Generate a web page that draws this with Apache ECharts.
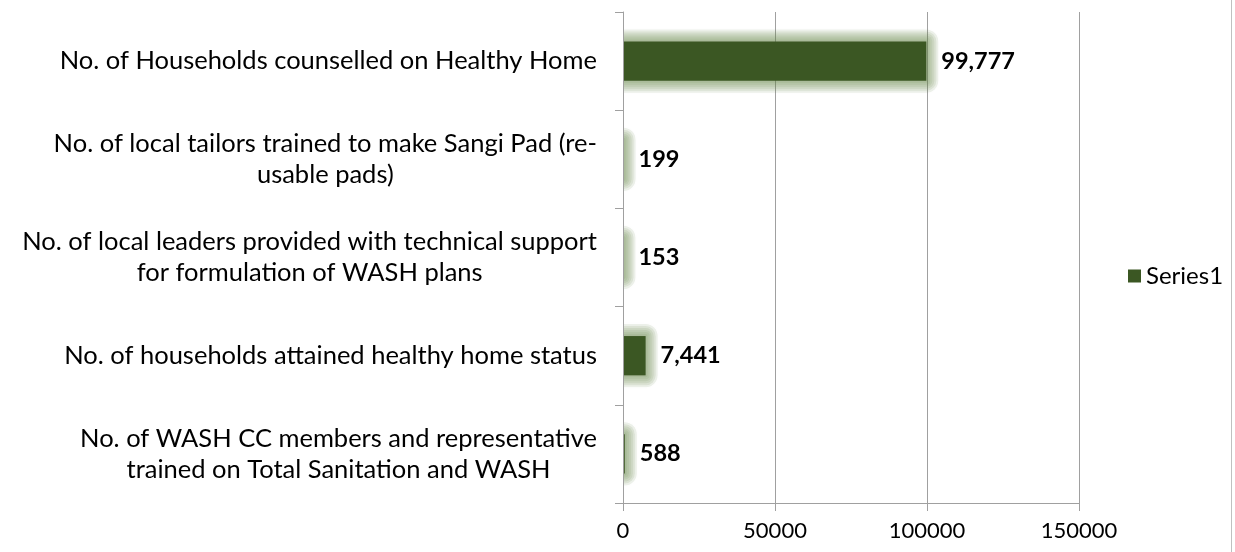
<!DOCTYPE html>
<html lang="en">
<head>
    <meta charset="UTF-8">
    <title>WASH results</title>
    <script src="https://cdn.jsdelivr.net/npm/echarts@6/dist/echarts.min.js"></script>
    <style>
        html, body { margin: 0; padding: 0; background: #fff; }
        #chart { width: 1235px; height: 552px; }
    </style>
</head>
<body>
<div id="chart"></div>
<script type="text/javascript">
    // category labels, top to bottom, already split where the original wraps
    var categories = [
        ['No. of Households counselled on Healthy Home'],
        ['No. of local tailors trained to make Sangi Pad (re-', 'usable pads)'],
        ['No. of local leaders provided with technical support', 'for formulation of WASH plans'],
        ['No. of households attained healthy home status'],
        ['No. of WASH CC members and representative', 'trained on Total Sanitation and WASH']
    ];
    var series1 = [99777, 199, 153, 7441, 588];
    var xTicks = [0, 50000, 100000, 150000];

    var font = 'Lato, "Noto Sans", sans-serif';
    var green = '#3b5723';

    // soft glow round each bar: a few faint rounded rects, positioned through the axes
    function renderGlow(params, api) {
        var start = api.coord([0, api.value(1)]);
        var end = api.coord([api.value(0), api.value(1)]);
        var h = api.size([0, 1])[1] * 0.4;
        var children = [];
        for (var k = 1; k <= 6; k++) {
            var pad = k * 2;
            children.push({
                type: 'rect',
                shape: {
                    x: start[0] - pad,
                    y: start[1] - h / 2 - pad,
                    width: end[0] - start[0] + 2 * pad,
                    height: h + 2 * pad,
                    r: pad
                },
                style: {
                    fill: 'rgba(110,140,85,0.12)',
                    shadowBlur: 4,
                    shadowColor: 'rgba(110,140,85,0.12)'
                }
            });
        }
        return { type: 'group', children: children };
    }

    var chart = echarts.init(document.getElementById('chart'));
    var option = {
        animation: false,
        textStyle: { fontFamily: font },
        legend: {
            data: ['Series1'],
            left: 1123,
            top: 'middle',
            icon: 'rect',
            itemWidth: 13,
            itemHeight: 13,
            itemGap: 8,
            textStyle: { fontSize: 24, color: '#000', fontFamily: font }
        },
        grid: {
            left: 623,
            right: 156,
            top: 12,
            bottom: 49,
            outerBoundsMode: 'none'
        },
        xAxis: {
            type: 'value',
            min: xTicks[0],
            max: xTicks[xTicks.length - 1],
            interval: xTicks[1] - xTicks[0],
            axisLine: { show: true, lineStyle: { color: '#a0a0a0' } },
            axisTick: { show: true, length: 8, lineStyle: { color: '#a0a0a0' } },
            splitLine: { show: true, lineStyle: { color: '#a0a0a0' } },
            axisLabel: {
                color: '#000', fontSize: 22, margin: 17, fontFamily: font,
                formatter: function (v) { return String(v); }
            }
        },
        yAxis: {
            type: 'category',
            inverse: true,
            z: 3,
            data: categories.map(function (c) { return c.join('\n'); }),
            axisLine: { show: true, lineStyle: { color: '#a0a0a0' } },
            axisTick: { show: true, length: 8, lineStyle: { color: '#a0a0a0' } },
            axisLabel: {
                color: '#000',
                fontSize: 25.5,
                lineHeight: 31,
                margin: 26,
                fontFamily: font,
                formatter: function (v) {
                    return v.split('\n').map(function (l) { return '{c|' + l + '}'; }).join('\n');
                },
                rich: {
                    c: { align: 'center', fontSize: 25.5, lineHeight: 31, color: '#000', fontFamily: font }
                }
            }
        },
        series: [{
            name: 'glow',
            type: 'custom',
            silent: true,
            clip: true,
            z: 1,
            renderItem: renderGlow,
            encode: { x: 0, y: 1 },
            data: series1.map(function (v, i) { return [v, i]; })
        }, {
            name: 'Series1',
            type: 'bar',
            data: series1,
            barCategoryGap: '60%',
            z: 2,
            itemStyle: { color: green },
            label: {
                show: true,
                position: 'right',
                distance: 15,
                color: '#000',
                fontWeight: 'bold',
                fontSize: 23.5,
                fontFamily: font,
                formatter: function (p) { return p.value.toLocaleString('en-US'); }
            }
        }],
        graphic: [{
            type: 'line',
            shape: { x1: 1231.5, y1: 0, x2: 1231.5, y2: 552 },
            style: { stroke: '#c0c0c0', lineWidth: 1 }
        }]
    };
    chart.setOption(option);
</script>
</body>
</html>
